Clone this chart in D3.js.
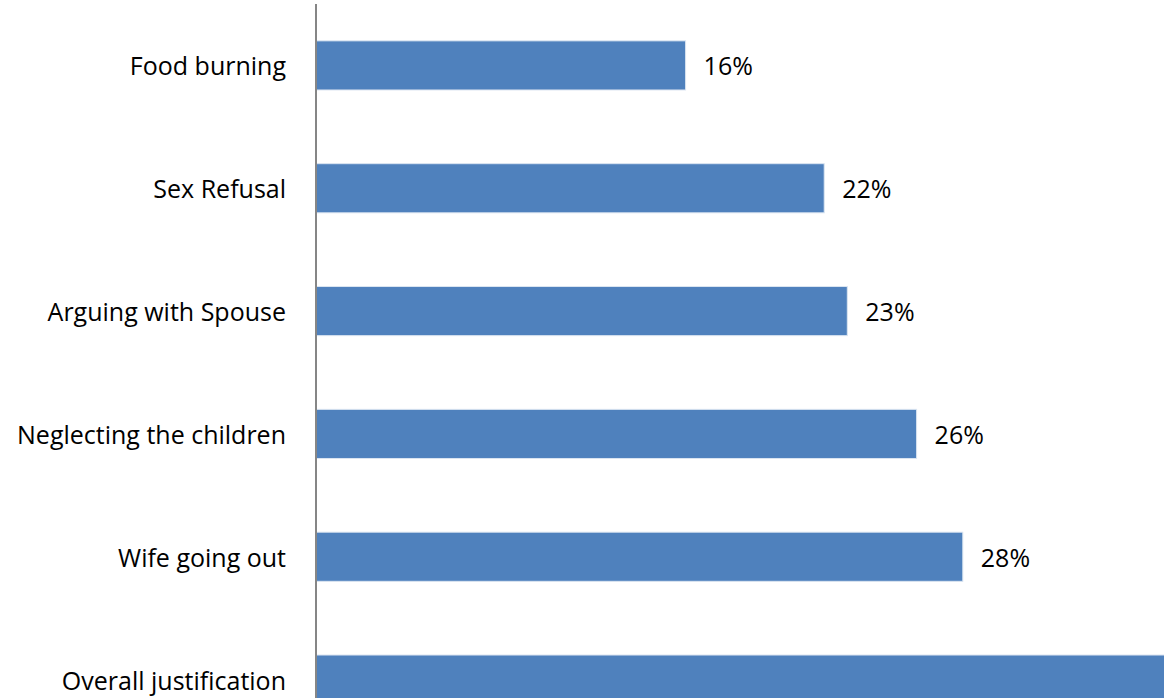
<!DOCTYPE html>
<html>
<head>
<meta charset="utf-8">
<script src="https://cdn.jsdelivr.net/npm/d3@7"></script>
<style>
  body { margin: 0; background: #fff; overflow: hidden; }
  svg { display: block; }
</style>
</head>
<body>
<script>
// Data
const categories = ['Food burning', 'Sex Refusal', 'Arguing with Spouse', 'Neglecting the children', 'Wife going out', 'Overall justification'];
const values = [16, 22, 23, 26, 28, 42];

// SVG setup
const width = 1164;
const height = 698;
const fontFamily = '"Open Sans", sans-serif';
const fontSize = '25px';

const svg = d3.select('body')
  .append('svg')
  .attr('width', width)
  .attr('height', height);

// Scales (the chart runs past the right and bottom edge of the picture)
const xScale = d3.scaleLinear()
  .domain([0, 40])
  .range([316, 316 + 924]);

const yScale = d3.scaleBand()
  .domain(categories)
  .range([4, 741])
  .paddingInner(0.6)
  .paddingOuter(0.3);

// Bars
svg.selectAll('rect')
  .data(values)
  .enter()
  .append('rect')
  .attr('x', xScale(0))
  .attr('y', (d, i) => yScale(categories[i]))
  .attr('width', d => xScale(d) - xScale(0))
  .attr('height', yScale.bandwidth())
  .attr('fill', '#4f81bd')
  .attr('stroke', '#dbe5f1')
  .attr('stroke-width', 1);

// Value labels (only the ones that fall inside the picture)
svg.selectAll('text.value')
  .data(values.filter(d => xScale(d) + 60 < width))
  .enter()
  .append('text')
  .attr('class', 'value')
  .text(d => d + '%')
  .attr('x', d => xScale(d) + 18)
  .attr('y', (d, i) => yScale(categories[i]) + yScale.bandwidth() / 2 + 1)
  .attr('dy', '0.35em')
  .attr('font-family', fontFamily)
  .attr('font-size', fontSize)
  .attr('fill', '#000');

// Category axis
const yAxis = d3.axisLeft(yScale).tickSize(0).tickPadding(30);
const gAxis = svg.append('g')
  .attr('transform', `translate(${xScale(0)},0)`)
  .call(yAxis);

gAxis.select('.domain')
  .attr('stroke', '#868686')
  .attr('stroke-width', 2)
  .attr('d', `M0,4V${height + 10}`);

gAxis.selectAll('text')
  .attr('font-family', fontFamily)
  .attr('font-size', fontSize)
  .attr('fill', '#000')
  .attr('dy', '0.4em');
</script>
</body>
</html>
